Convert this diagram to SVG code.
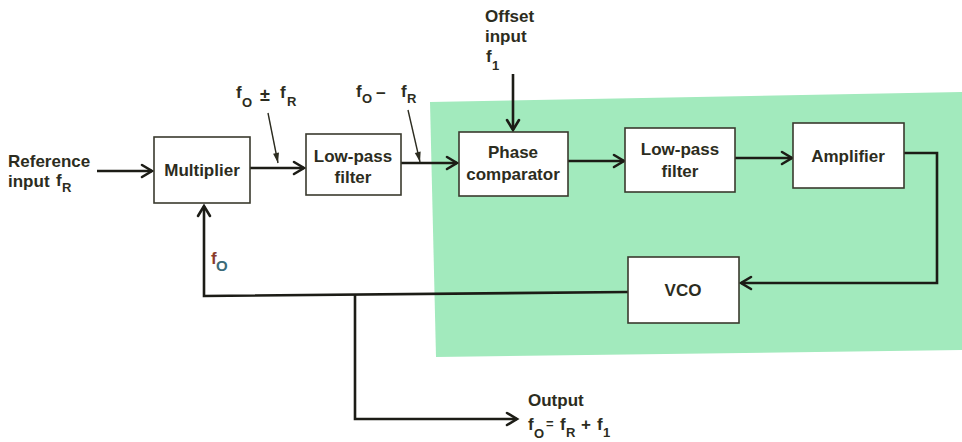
<svg xmlns="http://www.w3.org/2000/svg" width="962" height="442" viewBox="0 0 962 442">
<style>
  .box{fill:#ffffff;stroke:#3a3a2e;stroke-width:1.6}
  .t{font-family:"Liberation Sans",Arial,sans-serif;font-weight:bold;font-size:17px;fill:#2c2c20}
  .s{font-size:13px}
  .c{text-anchor:middle}
  .w{fill:none;stroke:#1c1c16;stroke-width:2.6;stroke-linejoin:miter}
  .p{fill:none;stroke:#2c2c20;stroke-width:1.4}
</style>
<defs>
  <marker id="ah" markerUnits="userSpaceOnUse" viewBox="-12 -8 14 16" refX="0" refY="0" markerWidth="14" markerHeight="16" orient="auto" overflow="visible">
    <path d="M-10,-6 L0,0 L-10,6" fill="none" stroke="#1c1c16" stroke-width="2.6" stroke-linecap="round"/>
  </marker>
  <marker id="ph" markerUnits="userSpaceOnUse" viewBox="-12 -5 14 10" refX="0" refY="0" markerWidth="14" markerHeight="10" orient="auto" overflow="visible">
    <path d="M-10,-3 L0,0 L-10,3 Z" fill="#2c2c20"/>
  </marker>
</defs>
<rect width="962" height="442" fill="#ffffff"/>
<polygon id="pll-region" points="430,102 962,92 962,350 436,357" fill="#a2eabd"/>

<g id="connectors">
  <line class="w" x1="97" y1="171" x2="152" y2="171" marker-end="url(#ah)"/>
  <line class="w" x1="250" y1="168" x2="304" y2="168" marker-end="url(#ah)"/>
  <line class="w" x1="401" y1="163" x2="457" y2="163" marker-end="url(#ah)"/>
  <line class="w" x1="568" y1="161" x2="624" y2="161" marker-end="url(#ah)"/>
  <line class="w" x1="735" y1="158" x2="792" y2="158" marker-end="url(#ah)"/>
  <polyline class="w" points="904,153 937,153 937,283 741,283" marker-end="url(#ah)"/>
  <polyline class="w" points="628,292 204,296 204,206" marker-end="url(#ah)"/>
  <polyline class="w" points="355,295 355,419 517,419" marker-end="url(#ah)"/>
  <line class="w" x1="513" y1="74" x2="513" y2="130" marker-end="url(#ah)"/>
  <line class="p" x1="268" y1="113" x2="278" y2="163" marker-end="url(#ph)"/>
  <line class="p" x1="408" y1="110" x2="420" y2="162" marker-end="url(#ph)"/>
</g>

<g id="multiplier">
  <rect class="box" x="154" y="137" width="96" height="66"/>
  <text class="t c" x="202" y="176">Multiplier</text>
</g>
<g id="lowpass1">
  <rect class="box" x="306" y="134" width="95" height="61"/>
  <text class="t c" x="353" y="162">Low-pass</text>
  <text class="t c" x="353" y="183">filter</text>
</g>
<g id="phase-comparator">
  <rect class="box" x="459" y="132" width="109" height="64"/>
  <text class="t c" x="513" y="158">Phase</text>
  <text class="t c" x="513" y="180">comparator</text>
</g>
<g id="lowpass2">
  <rect class="box" x="625" y="128" width="110" height="64"/>
  <text class="t c" x="680" y="155">Low-pass</text>
  <text class="t c" x="680" y="177">filter</text>
</g>
<g id="amplifier">
  <rect class="box" x="793" y="123" width="111" height="65"/>
  <text class="t c" x="848" y="162">Amplifier</text>
</g>
<g id="vco">
  <rect class="box" x="628" y="257" width="111" height="66"/>
  <text class="t c" x="683" y="296">VCO</text>
</g>

<g id="labels">
  <text class="t" x="8" y="167">Reference</text>
  <text class="t" x="8" y="187">input</text>
  <text class="t" x="56" y="186">f</text>
  <text class="t s" x="62" y="192">R</text>

  <text class="t" x="236" y="98">f</text>
  <text class="t s" x="242" y="107">O</text>
  <text class="t" x="260" y="101" style="font-size:18px">±</text>
  <text class="t" x="280" y="98">f</text>
  <text class="t s" x="287" y="106">R</text>

  <text class="t" x="356" y="97">f</text>
  <text class="t s" x="362" y="103">O</text>
  <text class="t" x="376" y="99">−</text>
  <text class="t" x="401" y="97">f</text>
  <text class="t s" x="407" y="103">R</text>

  <text class="t" x="485" y="22">Offset</text>
  <text class="t" x="485" y="42">input</text>
  <text class="t" x="486" y="62">f</text>
  <text class="t s" x="492" y="70">1</text>

  <text class="t" x="211" y="264" style="fill:#8a3b2b">f</text>
  <text class="t" x="216" y="271" style="fill:#3b6b78;font-size:15px">O</text>

  <text class="t" x="528" y="406">Output</text>
  <text class="t" x="528" y="430">f</text>
  <text class="t s" x="534" y="438">O</text>
  <text class="t s" x="546" y="428">=</text>
  <text class="t" x="560" y="430">f</text>
  <text class="t s" x="566" y="437">R</text>
  <text class="t" x="581" y="430">+</text>
  <text class="t" x="597" y="430">f</text>
  <text class="t s" x="603" y="437">1</text>
</g>
</svg>
